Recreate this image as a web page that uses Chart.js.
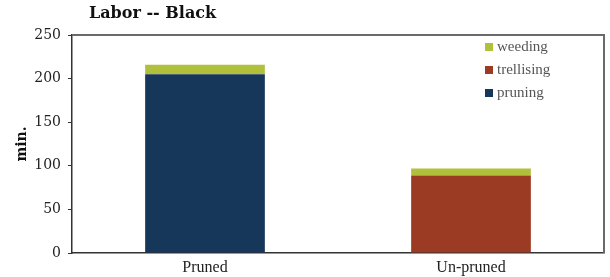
<!DOCTYPE html>
<html lang="en">
<head>
    <meta charset="UTF-8">
    <title>Labor -- Black</title>
    <script src="https://cdn.jsdelivr.net/npm/chart.js"></script>
    <style>
        body { margin: 0; background: #fff; }
        .wrap { position: relative; width: 610px; height: 277px; }
        #legend {
            position: absolute; left: 485px; top: 37px;
            font-family: "Liberation Serif", serif; font-size: 15px; color: #555;
        }
        #legend div { height: 23px; line-height: 18px; }
        #legend span.box { display: inline-block; width: 8px; height: 8px; margin-right: 4px; }
    </style>
</head>
<body>
    <div class="wrap">
        <canvas id="laborChart" width="610" height="277"></canvas>
        <div id="legend"></div>
    </div>

    <script>
        // data
        const categories = ['Pruned', 'Un-pruned'];
        const pruning = [205, 0];
        const trellising = [0, 89];
        const weeding = [11, 8];
        const seriesNames = ['pruning', 'trellising', 'weeding'];
        const seriesColors = ['#16375a', '#9c3b24', '#b0c03a'];

        const serif = '"Liberation Serif", serif';
        const dejavu = '"DejaVu Serif", serif';

        // frame on top/right, title and y axis title
        const framePlugin = {
            id: 'frame',
            afterDraw(chart) {
                const { ctx, chartArea: a } = chart;
                ctx.save();
                ctx.strokeStyle = '#6a6a6a';
                ctx.lineWidth = 2;
                ctx.beginPath();
                ctx.moveTo(a.left, a.top);
                ctx.lineTo(a.right, a.top);
                ctx.lineTo(a.right, a.bottom);
                ctx.stroke();

                ctx.fillStyle = '#111';
                ctx.font = 'bold 16px ' + dejavu;
                ctx.textBaseline = 'middle';
                ctx.textAlign = 'left';
                ctx.fillText('Labor -- Black', 89, 14);

                ctx.translate(22, (a.top + a.bottom) / 2);
                ctx.rotate(-Math.PI / 2);
                ctx.textAlign = 'center';
                ctx.font = 'bold 14px ' + dejavu;
                ctx.fillText('min.', 0, 0);
                ctx.restore();
            }
        };

        const values = [pruning, trellising, weeding];
        const datasets = seriesNames.map((name, i) => ({
            label: name,
            data: values[i],
            backgroundColor: seriesColors[i],
            barPercentage: 0.9,
            categoryPercentage: 0.5
        }));

        new Chart(document.getElementById('laborChart'), {
            type: 'bar',
            data: { labels: categories, datasets: datasets },
            options: {
                responsive: false,
                animation: false,
                layout: { padding: { left: 0, right: 6, top: 35, bottom: 0 } },
                plugins: { legend: { display: false }, tooltip: { enabled: false } },
                scales: {
                    x: {
                        stacked: true,
                        grid: { display: false, tickLength: 0 },
                        border: { color: '#333', width: 1.5 },
                        ticks: { color: '#222', font: { family: serif, size: 16 }, padding: 5 },
                        afterFit(scale) { scale.height = 24; }
                    },
                    y: {
                        stacked: true,
                        min: 0, max: 250,
                        ticks: { stepSize: 50, color: '#222', font: { family: dejavu, size: 14 }, padding: 7 },
                        grid: { drawOnChartArea: false, tickLength: 4, color: '#333' },
                        border: { color: '#333', width: 1.5 },
                        afterFit(scale) { scale.width = 72; }
                    }
                }
            },
            plugins: [framePlugin]
        });

        // legend (reversed order, like the original)
        const legend = document.getElementById('legend');
        for (let i = seriesNames.length - 1; i >= 0; i--) {
            const row = document.createElement('div');
            row.innerHTML = '<span class="box" style="background:' + seriesColors[i] + '"></span>' + seriesNames[i];
            legend.appendChild(row);
        }
    </script>
</body>
</html>
